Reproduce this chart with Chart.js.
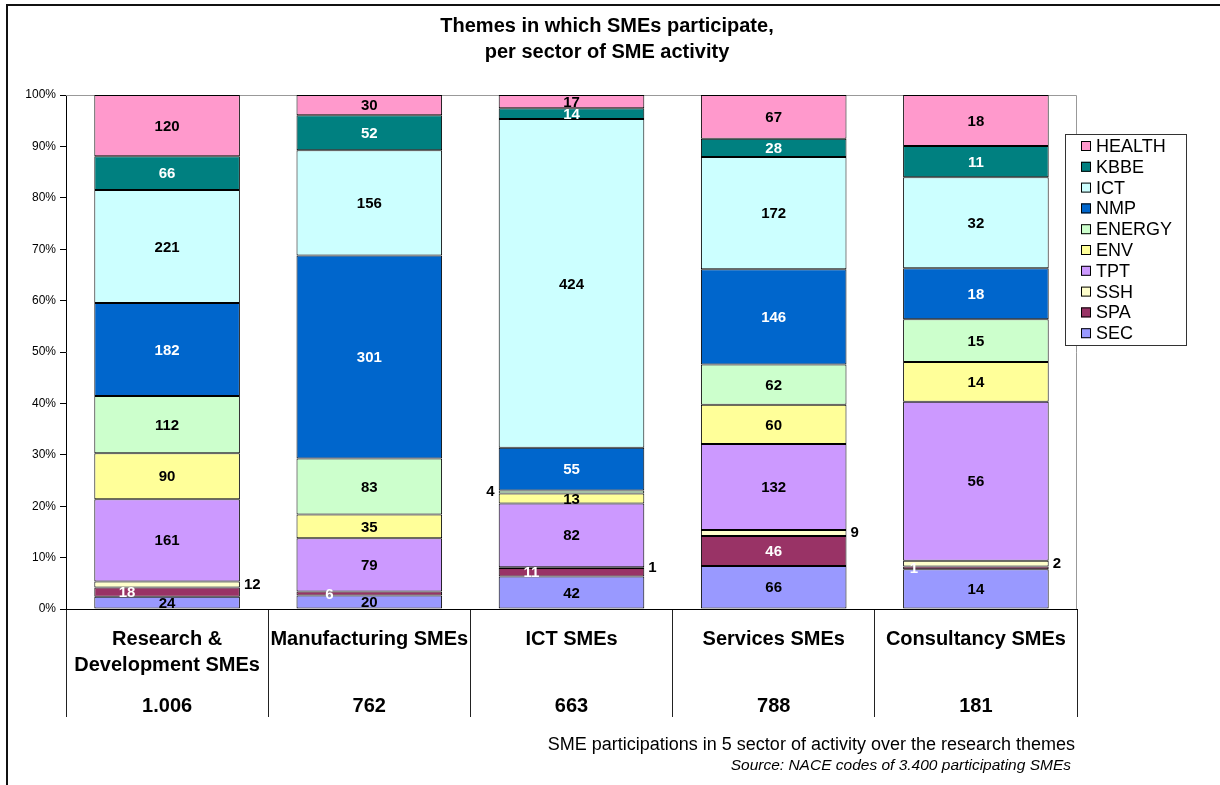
<!DOCTYPE html>
<html>
<head>
<meta charset="utf-8">
<script src="https://cdn.jsdelivr.net/npm/chart.js"></script>
<style>
  html, body { margin: 0; padding: 0; background: #fff; }
  #wrap { width: 1220px; height: 785px; }
</style>
</head>
<body>
<div id="wrap"><canvas id="chart" width="1220" height="785"></canvas></div>
<script>
// Sectors of SME activity (x axis)
const sectors = [
  ["Research &", "Development SMEs"],
  "Manufacturing SMEs",
  "ICT SMEs",
  "Services SMEs",
  "Consultancy SMEs",
]

// Number of participations per theme, one value per sector
const SEC = [24, 20, 42, 66, 14]
const SPA = [18, 6, 11, 46, 1]
const SSH = [12, 0, 1, 9, 2]
const TPT = [161, 79, 82, 132, 56]
const ENV = [90, 35, 13, 60, 14]
const ENERGY = [112, 83, 4, 62, 15]
const NMP = [182, 301, 55, 146, 18]
const ICT = [221, 156, 424, 172, 32]
const KBBE = [66, 52, 14, 28, 11]
const HEALTH = [120, 30, 17, 67, 18]

// y axis ticks (percent)
const yTicks = [0, 10, 20, 30, 40, 50, 60, 70, 80, 90, 100]

const FONT = "'Liberation Sans', Arial, Helvetica, sans-serif"

// series in stacking order (bottom -> top)
const series = [
  { name: "SEC", values: SEC, color: "#9999FF", text: "#000" },
  { name: "SPA", values: SPA, color: "#993366", text: "#fff" },
  { name: "SSH", values: SSH, color: "#FFFFCC", text: "#000" },
  { name: "TPT", values: TPT, color: "#CC99FF", text: "#000" },
  { name: "ENV", values: ENV, color: "#FFFF99", text: "#000" },
  { name: "ENERGY", values: ENERGY, color: "#CCFFCC", text: "#000" },
  { name: "NMP", values: NMP, color: "#0066CC", text: "#fff" },
  { name: "ICT", values: ICT, color: "#CCFFFF", text: "#000" },
  { name: "KBBE", values: KBBE, color: "#008080", text: "#fff" },
  { name: "HEALTH", values: HEALTH, color: "#FF99CC", text: "#000" },
]

const totals = sectors.map((_, i) => series.reduce((s, d) => s + d.values[i], 0))

function formatThousands(n) {
  return String(n).replace(/\B(?=(\d{3})+(?!\d))/g, ".")
}

// Plot area frame, title, legend, value labels, totals and footer
const decorations = {
  id: "decorations",
  beforeDatasetsDraw(chart) {
    const { ctx, chartArea: a } = chart
    ctx.save()
    ctx.strokeStyle = "#999"
    ctx.lineWidth = 1
    ctx.beginPath()
    ctx.moveTo(a.left, a.top + 0.5)
    ctx.lineTo(a.right - 0.5, a.top + 0.5)
    ctx.lineTo(a.right - 0.5, a.bottom)
    ctx.stroke()
    ctx.restore()
  },
  afterDraw(chart) {
    const { ctx } = chart
    const x = chart.scales.x
    ctx.save()

    // outer frame (only top and left visible)
    ctx.strokeStyle = "#111"
    ctx.lineWidth = 2
    ctx.beginPath()
    ctx.moveTo(7, 785)
    ctx.lineTo(7, 5)
    ctx.lineTo(1220, 5)
    ctx.stroke()

    // title
    ctx.fillStyle = "#000"
    ctx.textAlign = "center"
    ctx.textBaseline = "middle"
    ctx.font = "bold 20px " + FONT
    ctx.fillText("Themes in which SMEs participate,", 607, 26)
    ctx.fillText("per sector of SME activity", 607, 52)

    // value labels
    ctx.font = "bold 15px " + FONT
    chart.data.datasets.forEach((ds, di) => {
      const meta = chart.getDatasetMeta(di)
      const s = series[di]
      meta.data.forEach((bar, i) => {
        const v = s.values[i]
        if (!v) return
        const top = Math.min(bar.y, bar.base)
        const h = Math.abs(bar.base - bar.y)
        const cy = top + h / 2
        const half = bar.width / 2
        ctx.fillStyle = s.text
        if (s.name === "SSH" && h < 8) {
          ctx.fillStyle = "#000"
          ctx.textAlign = "left"
          ctx.fillText(String(v), bar.x + half + 4, cy)
        } else if (s.name === "ENERGY" && h < 8) {
          ctx.fillStyle = "#000"
          ctx.textAlign = "right"
          ctx.fillText(String(v), bar.x - half - 4, cy)
        } else if (s.name === "SPA" && h < 16) {
          ctx.textAlign = "center"
          ctx.fillText(String(v), bar.x - (v < 5 ? 62 : 40), cy + 1)
        } else {
          ctx.textAlign = "center"
          ctx.fillText(String(v), bar.x, cy + 1)
        }
      })
    })

    // totals row under the category names
    ctx.fillStyle = "#000"
    ctx.textAlign = "center"
    ctx.font = "bold 20px " + FONT
    totals.forEach((t, i) => {
      ctx.fillText(formatThousands(t), x.getPixelForValue(i), 706)
    })

    // legend
    const lx = 1065, ly = 134, lw = 121, lh = 211
    ctx.fillStyle = "#fff"
    ctx.fillRect(lx, ly, lw, lh)
    ctx.strokeStyle = "#333"
    ctx.lineWidth = 1
    ctx.strokeRect(lx + 0.5, ly + 0.5, lw, lh)
    ctx.font = "18px " + FONT
    ctx.textAlign = "left"
    series.slice().reverse().forEach((s, k) => {
      const cy = 146 + k * 20.8
      ctx.fillStyle = s.color
      ctx.fillRect(1081, cy - 5, 10, 10)
      ctx.strokeStyle = "#000"
      ctx.strokeRect(1081.5, cy - 4.5, 9, 9)
      ctx.fillStyle = "#000"
      ctx.fillText(s.name, 1096, cy + 1)
    })

    // footer
    ctx.textAlign = "right"
    ctx.font = "18px " + FONT
    ctx.fillText("SME participations in 5 sector of activity over the research themes", 1075, 745)
    ctx.font = "italic 15.5px " + FONT
    ctx.fillText("Source: NACE codes of 3.400 participating SMEs", 1071, 766)
    ctx.restore()
  },
}

new Chart(document.getElementById("chart"), {
  type: "bar",
  data: {
    labels: sectors,
    datasets: series.map((s) => ({
      label: s.name,
      data: s.values.map((v, i) => (v / totals[i]) * 100),
      backgroundColor: s.color,
      borderColor: "#000",
      borderWidth: 1,
      borderSkipped: false,
      barPercentage: 0.72,
      categoryPercentage: 1,
    })),
  },
  options: {
    responsive: false,
    animation: false,
    events: [],
    layout: { padding: { left: 6, top: 95, right: 143, bottom: 66 } },
    plugins: {
      legend: { display: false },
      title: { display: false },
      tooltip: { enabled: false },
    },
    scales: {
      x: {
        stacked: true,
        offset: true,
        afterFit(scale) { scale.height = 110 },
        border: { color: "#000", width: 1 },
        grid: {
          offset: true,
          drawOnChartArea: false,
          drawTicks: true,
          tickLength: 108,
          color: "#222",
        },
        ticks: {
          color: "#000",
          font: { family: FONT, size: 20, weight: "bold", lineHeight: 1.3 },
          padding: -91,
          maxRotation: 0,
          autoSkip: false,
        },
      },
      y: {
        stacked: true,
        min: 0,
        max: 100,
        afterFit(scale) { scale.width = 60 },
        afterBuildTicks(scale) { scale.ticks = yTicks.map((v) => ({ value: v })) },
        border: { color: "#000", width: 1 },
        grid: { drawOnChartArea: false, drawTicks: true, tickLength: 6, color: "#000" },
        ticks: {
          color: "#000",
          font: { family: FONT, size: 12 },
          padding: 4,
          callback: (v) => v + "%",
        },
      },
    },
  },
  plugins: [decorations],
})
</script>
</body>
</html>
